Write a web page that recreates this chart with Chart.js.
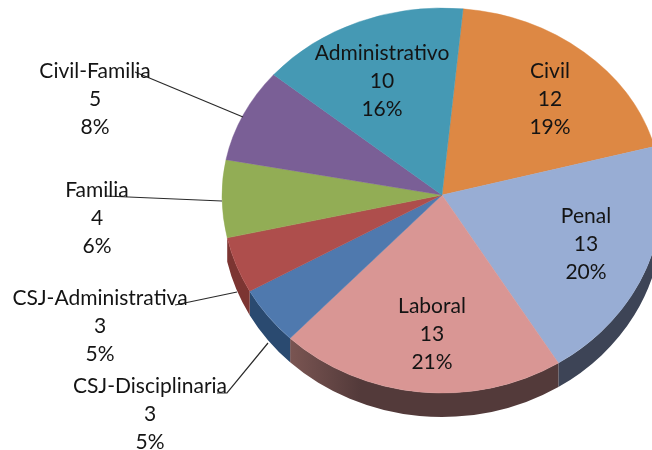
<!DOCTYPE html>
<html><head><meta charset="utf-8">
<style>html,body{margin:0;padding:0;background:#fff}canvas{display:block}</style>
<script src="https://cdn.jsdelivr.net/npm/chart.js@4"></script>
</head><body><canvas id="c" width="652" height="450"></canvas>
<script>
const categories = ["Civil","Penal","Laboral","CSJ-Disciplinaria","CSJ-Administrativa","Familia","Civil-Familia","Administrativo"];
const counts = [12,13,13,3,3,4,5,10];
const percents = [19,20,21,5,5,6,8,16];
const shares = [19.3,20.3,21,4.8,4.6,6.5,8.1,15.4];
const colors = ["#DD8844","#98ADD4","#D99694","#4F79AE","#AE4E4C","#92AD55","#7A5F96","#4599B4"];
const wallColors = ["#8a5328","#3D4456","#533A3A","#2A4A70","#7C3532",null,"#4a3a5c","#2a5f70"];
const labelCenters = [[550,71],[586,216],[432,306],[150,386],[100,298],[97,190],[95,71],[382,53]];
const leaders = [null,null,null,[[217,393],[227,393],[268,343]],[[175,305],[237,292]],[[105,196],[222,201]],[[135,72],[243,117]],null];
const pie = {cx:442, cy:195, rx:220, ryUp:187, ryDown:198, depth:24};

const ellipsePlugin = {
  id:'ellipse',
  beforeDatasetDraw(chart,args){
    const ctx = chart.ctx, meta = args.meta, arc0 = meta.data[0], r = arc0.outerRadius;
    // side wall
    meta.data.forEach((arc,i)=>{
      const lo=Math.max(arc.startAngle,0), hi=Math.min(arc.endAngle,Math.PI);
      if(hi<=lo || !wallColors[i]) return;
      ctx.save();
      ctx.beginPath();
      ctx.ellipse(pie.cx,pie.cy+pie.depth,pie.rx,pie.ryDown,0,lo,hi);
      ctx.ellipse(pie.cx,pie.cy,pie.rx,pie.ryDown,0,hi,lo,true);
      ctx.closePath();
      let fill = wallColors[i];
      if(i===2){
        const g = ctx.createLinearGradient(290,0,360,0);
        g.addColorStop(0,"#7A5552"); g.addColorStop(1,wallColors[i]);
        fill = g;
      }
      ctx.fillStyle = fill; ctx.fill();
      ctx.restore();
    });
    // top surface: lower and upper half share the apex
    [[pie.cy,450-pie.cy,pie.ryDown],[0,pie.cy,pie.ryUp]].forEach(([y,h,ry])=>{
      ctx.save();
      ctx.beginPath(); ctx.rect(0,y,652,h); ctx.clip();
      ctx.translate(pie.cx,pie.cy);
      ctx.scale(pie.rx/r,ry/r);
      ctx.translate(-arc0.x,-arc0.y);
      meta.controller.draw();
      ctx.restore();
    });
    return false;
  },
  afterDatasetsDraw(chart){
    const ctx = chart.ctx;
    ctx.save();
    ctx.strokeStyle="#2a2a2a"; ctx.lineWidth=1.2;
    leaders.forEach(l=>{
      if(!l) return;
      ctx.beginPath();
      l.forEach((p,i)=> i? ctx.lineTo(p[0],p[1]) : ctx.moveTo(p[0],p[1]));
      ctx.stroke();
    });
    ctx.fillStyle="#141414";
    ctx.font='21px Lato';
    ctx.textAlign='center'; ctx.textBaseline='middle';
    categories.forEach((c,i)=>{
      const [x,y]=labelCenters[i];
      ctx.fillText(c,x,y);
      ctx.fillText(String(counts[i]),x,y+28);
      ctx.fillText(percents[i]+"%",x,y+56);
    });
    ctx.restore();
  }
};

new Chart(document.getElementById('c'),{
  type:'pie',
  data:{labels:categories,datasets:[{data:shares,backgroundColor:colors,borderColor:colors,borderWidth:0.5}]},
  options:{
    responsive:false,animation:false,rotation:5.5,
    plugins:{legend:{display:false},tooltip:{enabled:false}},
    events:[]
  },
  plugins:[ellipsePlugin]
});
</script></body></html>
